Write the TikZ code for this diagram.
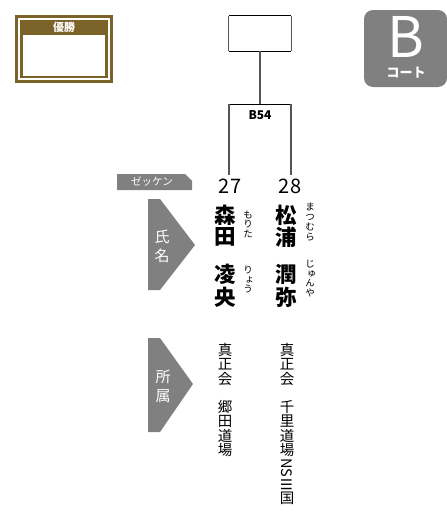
\documentclass[tikz,border=0pt]{standalone}
\usepackage{fontspec}
\newfontfamily\jp{Noto Sans CJK JP}
\definecolor{gold}{RGB}{123,98,40}
\definecolor{tag}{RGB}{128,128,128}
\definecolor{lgray}{RGB}{85,85,85}
\tikzset{
  jpt/.style={inner sep=0pt, font=\jp\fontsize{#1}{#1}\selectfont},
  jpb/.style={inner sep=0pt, font=\jp\bfseries\fontsize{#1}{#1}\selectfont},
  namech/.style={inner sep=0pt, font=\jp\bfseries\fontsize{21.5}{21.5}\selectfont},
  kana/.style={inner sep=0pt, font=\jp\fontsize{9.5}{9.5}\selectfont},
  affch/.style={inner sep=0pt, font=\jp\fontsize{14.5}{14.5}\selectfont},
  wtxt/.style={inner sep=0pt, text=white},
  hline/.style={draw=black, line width=0.8pt},
  vline/.style={draw=lgray, line width=1.1pt},
}
\begin{document}
\begin{tikzpicture}[x=1pt,y=-1pt]
\useasboundingbox (0,0) rectangle (447,514);
% winner box
\fill[gold] (15,15) rectangle (113,83);
\fill[white] (18,18) rectangle (110,80);
\fill[gold] (20,20) rectangle (108,78);
\fill[white] (23,35) rectangle (105,76);
\node[wtxt, jpb=11] (win) at (64,27) {優勝};
% court
\fill[tag, rounded corners=9pt] (364,10) rectangle (447,87);
\node[wtxt, jpt=56] (court) at (406,37) {B};
\node[wtxt, jpb=13] (courtlbl) at (406,73) {コート};
% bracket
\node[draw=none, minimum width=62pt, minimum height=35pt, inner sep=0pt] (top) at (260,33.5) {};
\draw[hline] (top.north west) -- (top.north east);
\draw[hline] (top.south west) -- (top.south east);
\draw[vline] (top.north west) -- (top.south west);
\draw[vline] (top.north east) -- (top.south east);
\coordinate (j) at (260,104);
\coordinate (jl) at (229,104);
\coordinate (jr) at (291,104);
\draw[vline] (top.south) -- (j);
\draw[hline] (jl) -- (jr);
\node[jpb=12] (match) at (260,115.5) {B54};
\node[jpt=20] (n27) at (230,186.5) {27};
\node[jpt=20] (n28) at (290,186.5) {28};
\coordinate (e27) at (229,175);
\coordinate (e28) at (291,175);
\draw[vline] (jl) -- (e27);
\draw[vline] (jr) -- (e28);
% zekken tag
\fill[tag] (117,174) -- (185,174) -- (192,181) -- (192,190) -- (117,190) -- cycle;
\node[wtxt, jpt=10.5] (zk) at (152,182) {ゼッケン};
% name arrow
\fill[tag] (148,199) -- (160,199) -- (195,245) -- (160,290) -- (148,290) -- cycle;
\node[wtxt, jpt=15] (shi) at (162,237) {氏};
\node[wtxt, jpt=15] (mei) at (162,255.5) {名};
% affiliation arrow
\fill[tag] (148,338) -- (160,338) -- (193,384) -- (160,432) -- (148,432) -- cycle;
\node[wtxt, jpt=15] (sho) at (163,377) {所};
\node[wtxt, jpt=15] (zoku) at (163,396) {属};
% names
\foreach \c/\y [count=\i] in {森/215,田/237,凌/274,央/297}
  \node[namech] (na\i) at (225,\y) {\c};
\foreach \c/\y [count=\i] in {松/215,浦/237,潤/274,弥/297}
  \node[namech] (nb\i) at (286,\y) {\c};
% furigana
\foreach \c/\x/\y [count=\i] in {も/248/214.5,り/248/224,た/248/233.5,り/248/270,ょ/249.5/279.5,う/248/289}
  \node[kana] (ka\i) at (\x,\y) {\c};
\foreach \c/\x/\y [count=\i] in {ま/310/207,つ/310/217,む/310/227,ら/310/237,じ/310/264,ゅ/311.5/273.5,ん/310/283,や/310/292.5}
  \node[kana] (kb\i) at (\x,\y) {\c};
% affiliations
\foreach \c/\y [count=\i] in {真/350,正/364.5,会/379,郷/407,田/421.5,道/436,場/450.5}
  \node[affch] (aa\i) at (225,\y) {\c};
\foreach \c/\y [count=\i] in {真/350,正/364.5,会/379,千/407,里/421.5,道/436,場/450.5}
  \node[affch] (ab\i) at (287,\y) {\c};
\node[affch, rotate=-90, anchor=west] (ns) at (287,458) {NSⅢ};
\node[affch, anchor=north] (koku) at ([yshift=0.5pt]ns.east) {国};
\end{tikzpicture}
\end{document}
